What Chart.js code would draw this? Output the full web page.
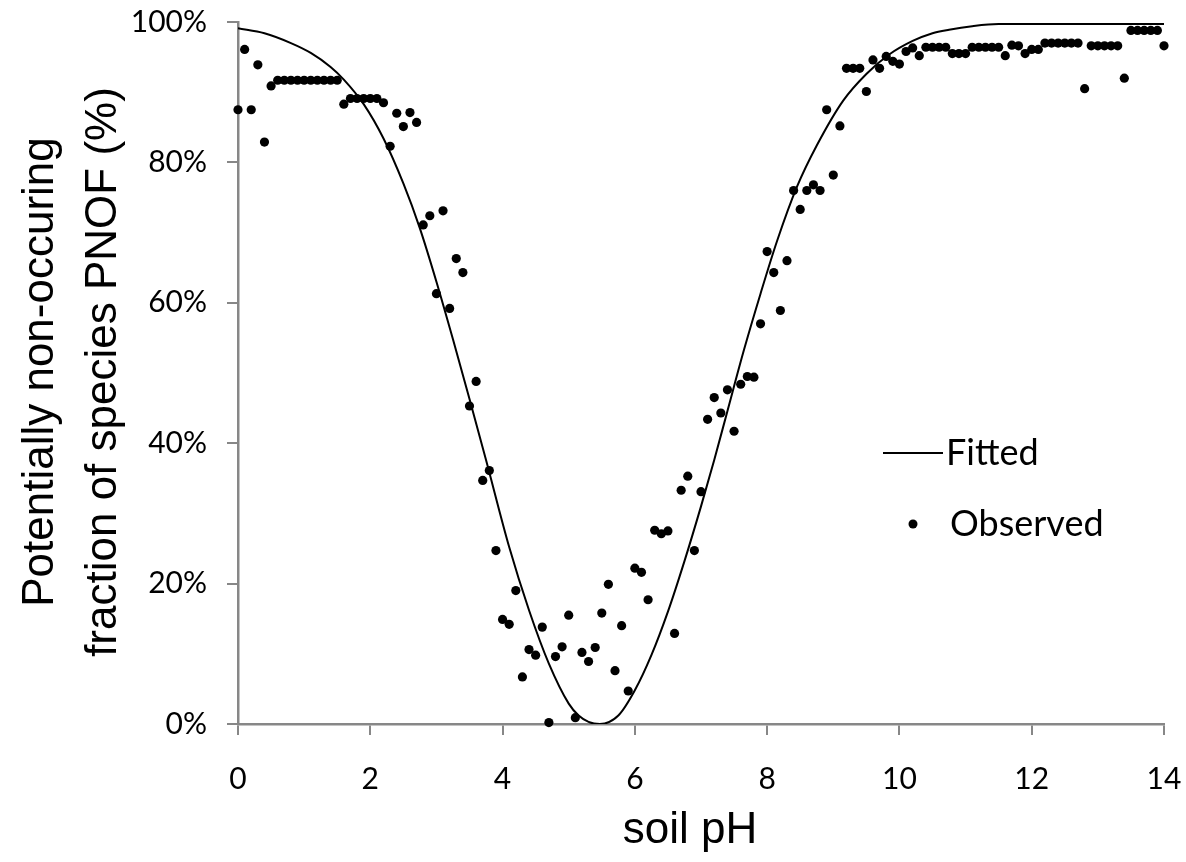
<!DOCTYPE html>
<html>
<head>
<meta charset="utf-8">
<script src="https://cdn.jsdelivr.net/npm/chart.js@4.4.1/dist/chart.umd.min.js"></script>
<style>
  html, body { margin: 0; padding: 0; background: #fff; }
  #wrap { width: 1186px; height: 862px; }
</style>
</head>
<body>
<div id="wrap"><canvas id="chart" width="1186" height="862"></canvas></div>
<script>
// Observed PNOF per soil pH step
const observedPH = [
  0.0, 0.1, 0.2, 0.3, 0.4, 0.5, 0.6, 0.7, 0.8, 0.9,
  1.0, 1.1, 1.2, 1.3, 1.4, 1.5, 1.6, 1.7, 1.8, 1.9,
  2.0, 2.1, 2.2, 2.3, 2.4, 2.5, 2.6, 2.7, 2.8, 2.9,
  3.0, 3.1, 3.2, 3.3, 3.4, 3.5, 3.6, 3.7, 3.8, 3.9,
  4.0, 4.1, 4.2, 4.3, 4.4, 4.5, 4.6, 4.7, 4.8, 4.9,
  5.0, 5.1, 5.2, 5.3, 5.4, 5.5, 5.6, 5.7, 5.8, 5.9,
  6.0, 6.1, 6.2, 6.3, 6.4, 6.5, 6.6, 6.7, 6.8, 6.9,
  7.0, 7.1, 7.2, 7.3, 7.4, 7.5, 7.6, 7.7, 7.8, 7.9,
  8.0, 8.1, 8.2, 8.3, 8.4, 8.5, 8.6, 8.7, 8.8, 8.9,
  9.0, 9.1, 9.2, 9.3, 9.4, 9.5, 9.6, 9.7, 9.8, 9.9,
  10.0, 10.1, 10.2, 10.3, 10.4, 10.5, 10.6, 10.7, 10.8, 10.9,
  11.0, 11.1, 11.2, 11.3, 11.4, 11.5, 11.6, 11.7, 11.8, 11.9,
  12.0, 12.1, 12.2, 12.3, 12.4, 12.5, 12.6, 12.7, 12.8, 12.9,
  13.0, 13.1, 13.2, 13.3, 13.4, 13.5, 13.6, 13.7, 13.8, 13.9,
  14.0
];
const observedPct = [
  87.5, 96.1, 87.5, 93.9, 82.9, 90.9, 91.7, 91.7, 91.7, 91.7,
  91.7, 91.7, 91.7, 91.7, 91.7, 91.7, 88.3, 89.1, 89.1, 89.1,
  89.1, 89.1, 88.5, 82.3, 87.0, 85.1, 87.1, 85.7, 71.1, 72.4,
  61.3, 73.1, 59.2, 66.3, 64.3, 45.3, 48.8, 34.7, 36.1, 24.7,
  14.9, 14.2, 19.0, 6.7, 10.6, 9.8, 13.8, 0.2, 9.6, 11.0,
  15.5, 0.9, 10.2, 8.9, 10.9, 15.8, 19.9, 7.6, 14.0, 4.7,
  22.2, 21.6, 17.7, 27.6, 27.1, 27.5, 12.9, 33.3, 35.3, 24.7,
  33.1, 43.4, 46.5, 44.3, 47.6, 41.7, 48.4, 49.5, 49.4, 57.0,
  67.3, 64.3, 58.9, 66.0, 76.0, 73.3, 76.0, 76.8, 76.0, 87.5,
  78.2, 85.2, 93.4, 93.4, 93.4, 90.1, 94.6, 93.4, 95.1, 94.4,
  94.0, 95.8, 96.3, 95.2, 96.4, 96.4, 96.4, 96.4, 95.5, 95.5,
  95.5, 96.4, 96.4, 96.4, 96.4, 96.4, 95.2, 96.7, 96.6, 95.5,
  96.1, 96.1, 97.0, 97.0, 97.0, 97.0, 97.0, 97.0, 90.5, 96.6,
  96.6, 96.6, 96.6, 96.6, 92.0, 98.8, 98.8, 98.8, 98.8, 98.8,
  96.6
];

// Fitted curve
const fittedPH  = [0, 0.4, 0.8, 1.1, 1.4, 1.6, 1.9, 2.2, 2.5, 2.75, 3.0, 3.25, 3.5, 3.75, 4.1, 4.4, 4.7, 5.0, 5.15, 5.3, 5.47,
                   5.75, 6.0, 6.25, 6.5, 6.75, 7.0, 7.2, 7.4, 7.65, 7.9, 8.15, 8.45, 8.75, 9.15, 9.5, 9.85, 10.2, 10.5, 10.75, 11.1, 11.5, 14];
const fittedPct = [99.1, 98.4, 97.0, 95.6, 93.6, 91.8, 88.3, 83.4, 77.0, 70.6, 63.0, 54.8, 46.3, 37.6, 25.2, 16.2, 8.6, 2.9, 1.2, 0.3, 0.0,
                   1.2, 4.8, 9.8, 16.0, 23.2, 31.0, 37.6, 44.6, 53.3, 61.3, 68.8, 76.5, 82.4, 88.8, 92.6, 95.4, 97.3, 98.4, 98.9, 99.4, 99.7, 99.7];

const xTicks = [0, 2, 4, 6, 8, 10, 12, 14];
const yTicks = [0, 20, 40, 60, 80, 100];

const axisGray = '#878787';
const tickFont = 'Lato, "Open Sans", sans-serif';
const titleFont = '"Liberation Sans", Arial, sans-serif';

// axis titles + legend
const overlay = {
  id: 'overlay',
  afterDraw(chart) {
    const ctx = chart.ctx;
    ctx.save();
    ctx.fillStyle = '#000';
    ctx.font = `44px ${titleFont}`;
    ctx.textAlign = 'center';
    ctx.textBaseline = 'alphabetic';
    ctx.fillText('soil pH', 690, 843);

    ctx.save();
    ctx.translate(0, 372);
    ctx.rotate(-Math.PI / 2);
    ctx.fillText('Potentially non-occuring', 0, 53);
    ctx.fillText('fraction of species PNOF (%)', 0, 116);
    ctx.restore();

    // legend
    ctx.font = `36px ${tickFont}`;
    ctx.textAlign = 'left';
    ctx.textBaseline = 'middle';
    ctx.strokeStyle = '#000';
    ctx.lineWidth = 2;
    ctx.beginPath();
    ctx.moveTo(883, 453);
    ctx.lineTo(943, 453);
    ctx.stroke();
    ctx.fillText('Fitted', 946, 453);

    ctx.beginPath();
    ctx.arc(913, 524, 4.5, 0, Math.PI * 2);
    ctx.fill();
    ctx.fillText('Observed', 950, 524);
    ctx.restore();
  }
};

new Chart(document.getElementById('chart'), {
  type: 'scatter',
  data: {
    datasets: [
      {
        label: 'Fitted',
        data: fittedPH.map((x, i) => ({ x, y: fittedPct[i] })),
        showLine: true,
        borderColor: '#000',
        borderWidth: 2,
        pointRadius: 0,
        cubicInterpolationMode: 'monotone',
        order: 1
      },
      {
        label: 'Observed',
        data: observedPH.map((x, i) => ({ x, y: observedPct[i] })),
        backgroundColor: '#000',
        borderWidth: 0,
        pointRadius: 4.6,
        clip: false,
        order: 2
      }
    ]
  },
  options: {
    responsive: false,
    animation: false,
    layout: { padding: { top: 22, right: 22, left: 0, bottom: 0 } },
    plugins: {
      legend: { display: false },
      tooltip: { enabled: false }
    },
    scales: {
      x: {
        type: 'linear',
        min: 0,
        max: 14,
        afterBuildTicks: s => { s.ticks = xTicks.map(v => ({ value: v })); },
        afterFit: s => { s.height = 138; s.paddingLeft = 0; s.paddingRight = 0; },
        grid: { drawOnChartArea: false, drawTicks: true, tickLength: 11, color: axisGray, lineWidth: 2 },
        border: { color: axisGray, width: 2.5 },
        ticks: { color: '#000', font: { family: tickFont, size: 30 }, padding: 26, maxRotation: 0 }
      },
      y: {
        min: 0,
        max: 100,
        afterBuildTicks: s => { s.ticks = yTicks.map(v => ({ value: v })); },
        afterFit: s => { s.width = 238; s.paddingTop = 0; s.paddingBottom = 0; },
        grid: { drawOnChartArea: false, drawTicks: true, tickLength: 11, color: axisGray, lineWidth: 2 },
        border: { color: axisGray, width: 2.5 },
        ticks: { color: '#000', font: { family: tickFont, size: 30 }, padding: 20, callback: v => v + '%' }
      }
    }
  },
  plugins: [overlay]
});
</script>
</body>
</html>
